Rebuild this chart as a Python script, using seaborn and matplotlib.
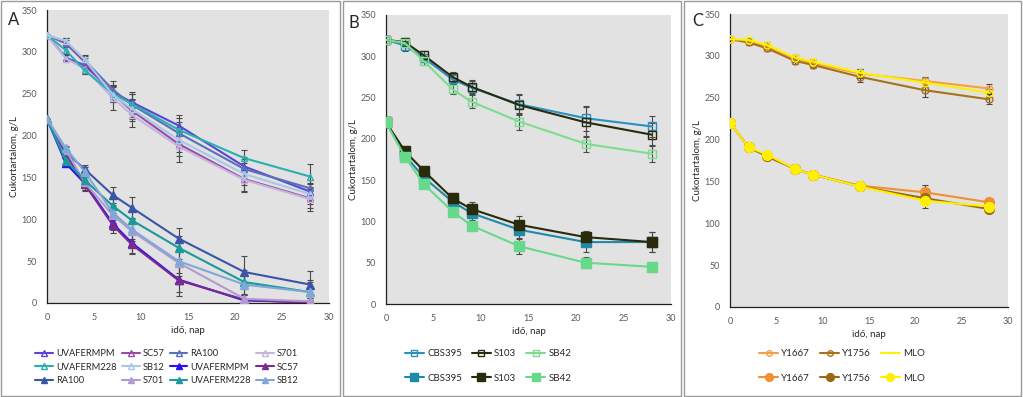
import matplotlib
matplotlib.use("Agg")
import matplotlib.pyplot as plt
import seaborn as sns
from matplotlib.patches import Rectangle
from matplotlib.lines import Line2D

sns.set_theme(style="white")
plt.rcParams['font.family'] = ['Lato', 'DejaVu Sans']

# idő (nap)
napok = [0, 2, 4, 7, 9, 14, 21, 28]

# A panel - nyitott háromszög (320 g/L indulás)
A_nyitott = {
    'UVAFERMPM': [320, 293, 284, 252, 240, 212, 163, 133],
    'SC57': [320, 310, 288, 250, 230, 190, 148, 125],
    'RA100': [320, 312, 290, 255, 237, 203, 160, 137],
    'S701': [320, 292, 280, 245, 225, 187, 147, 124],
    'UVAFERM228': [320, 302, 278, 250, 238, 207, 173, 151],
    'SB12': [320, 313, 291, 249, 232, 195, 154, 130],
}
A_nyitott_hiba = {
    'UVAFERMPM': [0, 3, 5, 8, 10, 12, 12, 10],
    'SC57': [0, 4, 5, 10, 12, 14, 14, 12],
    'RA100': [0, 4, 5, 10, 15, 13, 12, 10],
    'S701': [0, 4, 6, 14, 15, 18, 14, 14],
    'UVAFERM228': [0, 4, 5, 9, 12, 14, 10, 15],
    'SB12': [0, 4, 5, 9, 12, 15, 13, 12],
}
# A panel - teli háromszög (220 g/L indulás)
A_teli = {
    'UVAFERMPM': [220, 167, 143, 95, 72, 28, 3, 1],
    'SC57': [220, 178, 142, 93, 70, 27, 4, 0],
    'RA100': [220, 180, 160, 129, 114, 77, 37, 22],
    'S701': [220, 183, 144, 105, 86, 48, 5, 2],
    'UVAFERM228': [220, 170, 147, 116, 99, 66, 25, 13],
    'SB12': [220, 185, 157, 108, 88, 50, 22, 13],
}
A_teli_hiba = {
    'UVAFERMPM': [0, 3, 8, 8, 12, 15, 2, 2],
    'SC57': [0, 3, 8, 9, 12, 19, 2, 2],
    'RA100': [0, 3, 5, 9, 13, 13, 19, 16],
    'S701': [0, 3, 9, 10, 12, 16, 6, 4],
    'UVAFERM228': [0, 3, 6, 9, 12, 14, 15, 15],
    'SB12': [0, 3, 6, 9, 12, 14, 12, 12],
}
A_szin_nyitott = {'UVAFERMPM': '#5b45d8', 'SC57': '#9a4aa8', 'RA100': '#5a70b8',
                  'S701': '#c4b4de', 'UVAFERM228': '#2ab0b0', 'SB12': '#a8c8e8'}
A_szin_teli = {'UVAFERMPM': '#2a0ff0', 'SC57': '#7a2a90', 'RA100': '#3a55a5',
               'S701': '#b39ad0', 'UVAFERM228': '#1a9a9a', 'SB12': '#7fa8d8'}

# B panel - négyzetek
B_nyitott = {
    'CBS395': [320, 313, 298, 272, 262, 242, 225, 215],
    'S103': [320, 317, 301, 275, 263, 241, 220, 205],
    'SB42': [320, 316, 294, 260, 245, 221, 194, 182],
}
B_nyitott_hiba = {
    'CBS395': [0, 6, 5, 6, 8, 12, 15, 13],
    'S103': [0, 5, 5, 6, 8, 12, 18, 14],
    'SB42': [0, 5, 5, 6, 8, 10, 10, 10],
}
B_teli = {
    'CBS395': [220, 180, 153, 124, 110, 90, 75, 75],
    'S103': [220, 185, 161, 128, 115, 96, 81, 75],
    'SB42': [220, 178, 145, 112, 95, 70, 50, 45],
}
B_teli_hiba = {
    'CBS395': [0, 3, 4, 6, 8, 10, 12, 12],
    'S103': [0, 3, 4, 7, 8, 10, 8, 12],
    'SB42': [0, 3, 4, 6, 5, 9, 7, 3],
}
B_szin_nyitott = {'CBS395': '#2a90c0', 'S103': '#2a2a0c', 'SB42': '#7edc90'}
B_szin_teli = {'CBS395': '#1f8aa8', 'S103': '#2a2a0c', 'SB42': '#66d98a'}

# C panel - körök
C_nyitott = {
    'Y1667': [320, 318, 311, 297, 291, 279, 270, 261],
    'Y1756': [320, 316, 309, 294, 289, 275, 259, 248],
    'MLO': [320, 319, 313, 298, 293, 280, 268, 256],
}
C_nyitott_hiba = {
    'Y1667': [0, 3, 3, 4, 4, 5, 5, 5],
    'Y1756': [0, 3, 3, 4, 4, 6, 8, 6],
    'MLO': [0, 2, 3, 3, 3, 4, 5, 5],
}
C_teli = {
    'Y1667': [220, 191, 180, 165, 158, 145, 137, 125],
    'Y1756': [220, 191, 180, 165, 158, 144, 130, 117],
    'MLO': [220, 191, 182, 165, 158, 144, 127, 120],
}
C_teli_hiba = {
    'Y1667': [0, 1, 2, 1, 1, 2, 9, 2],
    'Y1756': [0, 1, 2, 1, 1, 2, 3, 2],
    'MLO': [0, 1, 2, 1, 1, 2, 9, 2],
}
C_szin_nyitott = {'Y1667': '#f5a045', 'Y1756': '#a5731a', 'MLO': '#fff200'}
C_szin_teli = {'Y1667': '#f09030', 'Y1756': '#9a6a10', 'MLO': '#ffef00'}

hatter = '#e2e2e2'
tick_szin = '#595959'

fig = plt.figure(figsize=(10.23, 3.97), dpi=100)

# panelkeretek
for x0, x1 in [(1, 340), (343, 681), (684, 1021)]:
    fig.patches.append(Rectangle((x0 / 1023, 1 / 397), (x1 - x0) / 1023, 395 / 397,
                                 transform=fig.transFigure, fill=False,
                                 edgecolor='#9a9a9a', linewidth=1.0))


def tengely(rect):
    ax = fig.add_axes(rect)
    ax.set_facecolor(hatter)
    ax.set_xlim(0, 30)
    ax.set_ylim(0, 350)
    ax.set_xticks(range(0, 31, 5))
    ax.set_yticks(range(0, 351, 50))
    for s in ['top', 'right']:
        ax.spines[s].set_visible(False)
    for s in ['left', 'bottom']:
        ax.spines[s].set_color('#202020')
        ax.spines[s].set_linewidth(0.9)
    ax.tick_params(axis='both', labelsize=6.5, labelcolor=tick_szin, length=3,
                   width=0.8, color='#202020', direction='out', pad=4)
    ax.set_xlabel('idő, nap', fontsize=7, labelpad=3)
    ax.set_ylabel('Cukortartalom, g/L', fontsize=7, labelpad=2)
    return ax


def sorozat(ax, adat, hiba, szin, marker, teli, ms, lw):
    handles = []
    for nev, ertek in adat.items():
        c = szin[nev]
        ax.errorbar(napok, ertek, yerr=hiba[nev], fmt='none', ecolor='#4a4a4a',
                    elinewidth=0.8, capsize=2, capthick=0.8, zorder=2)
        mfc = c if teli else 'none'
        sns.lineplot(x=napok, y=ertek, ax=ax, color=c, linewidth=lw, marker=marker,
                     markersize=ms, markerfacecolor=mfc, markeredgecolor=c,
                     markeredgewidth=1.0, zorder=3, legend=False)
        handles.append(Line2D([], [], color=c, linewidth=lw, marker=marker,
                              markersize=ms * 0.8, markerfacecolor=mfc,
                              markeredgecolor=c, label=nev))
    return handles


# A panel
axA = tengely([47 / 1023, 1 - 303 / 397, 282 / 1023, 293 / 397])
hA1 = sorozat(axA, A_nyitott, A_nyitott_hiba, A_szin_nyitott, '^', False, 5, 1.5)
hA2 = sorozat(axA, A_teli, A_teli_hiba, A_szin_teli, '^', True, 6, 1.5)
fig.text(8 / 1023, 1 - 20 / 397, 'A', fontsize=12, ha='left', va='center')
osszes = hA1 + hA2
ncol = 4
nsor = 3
sorrend = [osszes[r * ncol + c] for c in range(ncol) for r in range(nsor)]
fig.legend(handles=sorrend, ncol=4, loc='center', bbox_to_anchor=(167 / 1023, 1 - 367 / 397),
           frameon=False, fontsize=6.7, handlelength=1.9, columnspacing=0.6,
           labelspacing=0.5, handletextpad=0.3)

# B panel
axB = tengely([386 / 1023, 1 - 304 / 397, 285 / 1023, 289 / 397])
hB1 = sorozat(axB, B_nyitott, B_nyitott_hiba, B_szin_nyitott, 's', False, 6, 1.5)
hB2 = sorozat(axB, B_teli, B_teli_hiba, B_szin_teli, 's', True, 7, 1.5)
fig.text(348 / 1023, 1 - 23 / 397, 'B', fontsize=12, ha='left', va='center')
fig.legend(handles=[hB1[0], hB2[0], hB1[1], hB2[1], hB1[2], hB2[2]], ncol=3, loc='center',
           bbox_to_anchor=(488 / 1023, 1 - 366 / 397), frameon=False, fontsize=7,
           handlelength=2.0, columnspacing=1.0, labelspacing=1.6, handletextpad=0.3)

# C panel
axC = tengely([730 / 1023, 1 - 307 / 397, 278 / 1023, 293 / 397])
hC1 = sorozat(axC, C_nyitott, C_nyitott_hiba, C_szin_nyitott, 'o', False, 5, 1.5)
hC2 = sorozat(axC, C_teli, C_teli_hiba, C_szin_teli, 'o', True, 7, 1.5)
hC1[2].set_marker('None')
fig.text(692 / 1023, 1 - 21 / 397, 'C', fontsize=12, ha='left', va='center')
fig.legend(handles=[hC1[0], hC2[0], hC1[1], hC2[1], hC1[2], hC2[2]], ncol=3, loc='center',
           bbox_to_anchor=(842 / 1023, 1 - 366 / 397), frameon=False, fontsize=7,
           handlelength=2.0, columnspacing=1.0, labelspacing=1.6, handletextpad=0.3)

fig.savefig('out.png', dpi=100, facecolor='white')
